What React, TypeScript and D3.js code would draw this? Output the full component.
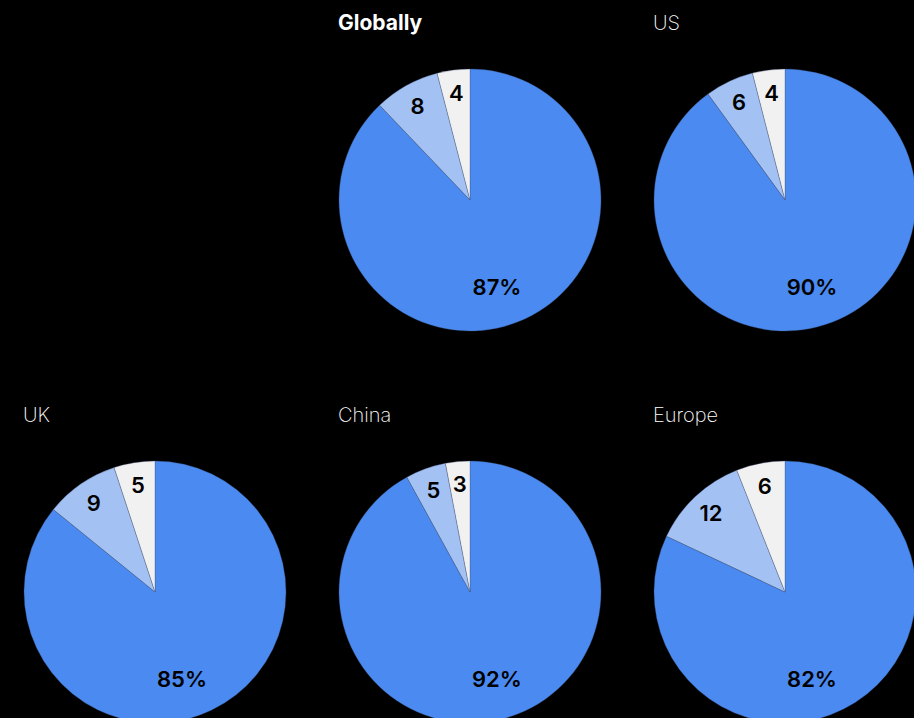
import React from "react";
import * as d3 from "d3";

const regions = ["Globally", "US", "UK", "China", "Europe"];
const majorShare = [87, 90, 85, 92, 82];
const middleShare = [8, 6, 9, 5, 12];
const minorShare = [4, 4, 5, 3, 6];
const sliceKeys = ["major", "middle", "minor"];
const sliceColors = ["#4a8af1", "#a3c2f3", "#f1f1f1"];

const W = 914;
const H = 718;
const R = 131;
// grid placement (column, row) for each region
const gridCol = [1, 2, 0, 1, 2];
const gridRow = [0, 0, 1, 1, 1];

export default function App() {
  const xPos = d3.scalePoint<number>().domain([0, 1, 2]).range([155, 785]);
  const yPos = d3.scalePoint<number>().domain([0, 1]).range([200, 592]);
  const color = d3.scaleOrdinal<string, string>().domain(sliceKeys).range(sliceColors);
  const pie = d3
    .pie<{ key: string; value: number }>()
    .value((d) => d.value)
    .sort(null);
  const arc = d3.arc<d3.PieArcDatum<{ key: string; value: number }>>().innerRadius(0).outerRadius(R);
  const smallLabelArc = d3.arc<d3.PieArcDatum<{ key: string; value: number }>>().innerRadius(108).outerRadius(108);

  return (
    <svg
      width={W}
      height={H}
      style={{ position: "absolute", left: 0, top: 0, display: "block" }}
    >
      <rect width={W} height={H} fill="#000" />
      {regions.map((name, i) => {
        const cx = xPos(gridCol[i])!;
        const cy = yPos(gridRow[i])!;
        const data = [
          { key: "major", value: majorShare[i] },
          { key: "middle", value: middleShare[i] },
          { key: "minor", value: minorShare[i] },
        ];
        const arcs = pie(data);
        return (
          <g key={name}>
            <text
              x={cx - R - 1}
              y={cy - 170}
              fill="#fff"
              fontFamily="Inter, 'Noto Sans', sans-serif"
              fontSize={i === 0 ? 21 : 20}
              fontWeight={i === 0 ? 700 : 200}
            >
              {name}
            </text>
            <g transform={`translate(${cx},${cy})`}>
              {arcs.map((a) => (
                <path
                  key={a.data.key}
                  d={arc(a) || ""}
                  fill={color(a.data.key)}
                  stroke="rgba(60,80,120,0.55)"
                  strokeWidth={0.6}
                />
              ))}
              {arcs.map((a, j) => {
                const [lx, ly] = j === 0 ? [27, 87] : smallLabelArc.centroid(a);
                return (
                  <text
                    key={"l" + a.data.key}
                    x={lx}
                    y={ly}
                    textAnchor="middle"
                    dominantBaseline="central"
                    fill="#000"
                    fontFamily="Inter, 'Noto Sans', sans-serif"
                    fontSize={22}
                    fontWeight={600}
                  >
                    {j === 0 ? `${a.data.value}%` : a.data.value}
                  </text>
                );
              })}
            </g>
          </g>
        );
      })}
    </svg>
  );
}
